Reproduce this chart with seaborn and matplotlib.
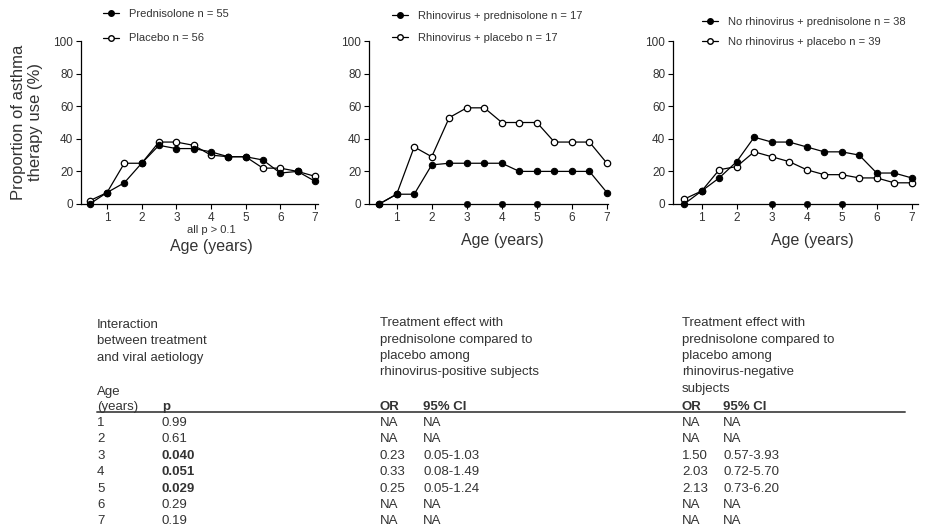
import matplotlib
matplotlib.use("Agg")
import matplotlib.pyplot as plt
from matplotlib.lines import Line2D
import seaborn as sns
import pandas as pd

# ---------------- data ----------------
ages_half = [0.5, 1, 1.5, 2, 2.5, 3, 3.5, 4, 4.5, 5, 5.5, 6, 6.5, 7]

all_pred = [0, 7, 13, 25, 36, 34, 34, 32, 29, 29, 27, 19, 20, 14]
all_plac = [2, 7, 25, 25, 38, 38, 36, 30, 29, 29, 22, 22, 20, 17]

rv_pred = [0, 6, 6, 24, 25, 25, 25, 25, 20, 20, 20, 20, 20, 7]
rv_plac = [0, 6, 35, 29, 53, 59, 59, 50, 50, 50, 38, 38, 38, 25]

norv_pred = [0, 8, 16, 26, 41, 38, 38, 35, 32, 32, 30, 19, 19, 16]
norv_plac = [3, 8, 21, 23, 32, 29, 26, 21, 18, 18, 16, 16, 13, 13]

zero_marker_x = [3, 4, 5]
zero_marker_y = [0, 0, 0]

legend_labels = [
    ("Prednisolone n = 55", "Placebo n = 56"),
    ("Rhinovirus + prednisolone n = 17", "Rhinovirus + placebo n = 17"),
    ("No rhinovirus + prednisolone n = 38", "No rhinovirus + placebo n = 39"),
]

y_ticks = [0, 20, 40, 60, 80, 100]
x_ticks = [1, 2, 3, 4, 5, 6, 7]

table_ages = ["1", "2", "3", "4", "5", "6", "7"]
table_p = ["0.99", "0.61", "0.040", "0.051", "0.029", "0.29", "0.19"]
table_p_bold = [False, False, True, True, True, False, False]
rvpos_or = ["NA", "NA", "0.23", "0.33", "0.25", "NA", "NA"]
rvpos_ci = ["NA", "NA", "0.05-1.03", "0.08-1.49", "0.05-1.24", "NA", "NA"]
rvneg_or = ["NA", "NA", "1.50", "2.03", "2.13", "NA", "NA"]
rvneg_ci = ["NA", "NA", "0.57-3.93", "0.72-5.70", "0.73-6.20", "NA", "NA"]

# ---------------- style ----------------
sns.set_style("ticks")
plt.rcParams["font.family"] = ["Liberation Sans", "DejaVu Sans"]
TXT = "#333333"

W, H = 942, 530
fig = plt.figure(figsize=(W / 100, H / 100), dpi=100)


def fx(x):
    return x / W


def fy(y):
    return 1 - y / H


panels = [
    dict(left=81, right=318, xlim=(0.25, 7.09), pred=all_pred, plac=all_plac,
         zeros=False, leg=(103, 9, 1.3)),
    dict(left=369, right=608, xlim=(0.21, 7.03), pred=rv_pred, plac=rv_plac,
         zeros=True, leg=(392, 11, 1.1)),
    dict(left=673, right=918, xlim=(0.18, 7.18), pred=norv_pred, plac=norv_plac,
         zeros=True, leg=(702, 17, 0.9)),
]

top_px, bot_px = 41, 204

for i, p in enumerate(panels):
    ax = fig.add_axes([fx(p["left"]), fy(bot_px), (p["right"] - p["left"]) / W,
                       (bot_px - top_px) / H])
    df = pd.DataFrame({"age": ages_half, "pred": p["pred"], "plac": p["plac"]})
    sns.lineplot(data=df, x="age", y="plac", ax=ax, color="black", lw=0.9,
                 marker="o", markersize=4.6, markerfacecolor="white",
                 markeredgecolor="black", markeredgewidth=0.9, clip_on=False)
    sns.lineplot(data=df, x="age", y="pred", ax=ax, color="black", lw=0.9,
                 marker="o", markersize=4.6, markerfacecolor="black",
                 markeredgecolor="black", clip_on=False)
    if p["zeros"]:
        sns.scatterplot(x=zero_marker_x, y=zero_marker_y, ax=ax, color="black",
                        s=22, edgecolor="black", clip_on=False, zorder=5)
    ax.set_xlim(*p["xlim"])
    ax.set_ylim(0, 100)
    ax.set_xticks(x_ticks)
    ax.set_yticks(y_ticks)
    ax.tick_params(labelsize=8.5, length=3.5, width=0.8, colors="black",
                   labelcolor=TXT, pad=2)
    for s in ["left", "bottom"]:
        ax.spines[s].set_linewidth(0.9)
        ax.spines[s].set_color("black")
    sns.despine(ax=ax)
    ax.set_xlabel("")
    ax.set_ylabel("")

    handles = [
        Line2D([], [], color="black", lw=0.9, marker="o", markersize=4,
               markerfacecolor="black"),
        Line2D([], [], color="black", lw=0.9, marker="o", markersize=4,
               markerfacecolor="white"),
    ]
    lx, ly, ls = p["leg"]
    fig.legend(handles, legend_labels[i], loc="upper left",
               bbox_to_anchor=(fx(lx), fy(ly)), bbox_transform=fig.transFigure,
               frameon=False, fontsize=8, handlelength=1.4, handletextpad=0.9,
               labelspacing=ls, borderpad=0, borderaxespad=0, labelcolor=TXT)

# axis labels
fig.text(fx(27), fy(122), "Proportion of asthma\ntherapy use (%)", rotation=90,
         ha="center", va="center", fontsize=12, color=TXT, linespacing=1.15)
fig.text(fx(211), fy(230), "all p > 0.1", ha="center", va="center", fontsize=8,
         color=TXT)
fig.text(fx(211), fy(247), "Age (years)", ha="center", va="center", fontsize=11.5,
         color=TXT)
fig.text(fx(502), fy(240), "Age (years)", ha="center", va="center", fontsize=11.5,
         color=TXT)
fig.text(fx(812), fy(240), "Age (years)", ha="center", va="center", fontsize=11.5,
         color=TXT)

# ---------------- table ----------------
FS = 9.5


def t(x, y, s, bold=False):
    fig.text(fx(x), fy(y), s, ha="left", va="center", fontsize=FS, color=TXT,
             fontweight="bold" if bold else "normal")


for j, line in enumerate(["Interaction", "between treatment", "and viral aetiology"]):
    t(97, 325 + j * 16.3, line)
for j, line in enumerate(["Treatment effect with", "prednisolone compared to",
                          "placebo among", "rhinovirus-positive subjects"]):
    t(380, 323 + j * 16.5, line)
for j, line in enumerate(["Treatment effect with", "prednisolone compared to",
                          "placebo among", "rhinovirus-negative", "subjects"]):
    t(682, 323 + j * 16.5, line)

t(97, 392, "Age")
t(97, 407, "(years)")
t(162, 407, "p", bold=True)
t(380, 407, "OR", bold=True)
t(423, 407, "95% CI", bold=True)
t(682, 407, "OR", bold=True)
t(723, 407, "95% CI", bold=True)

fig.add_artist(Line2D([fx(97), fx(905)], [fy(412), fy(412)], color="#555555",
                      lw=1.4, transform=fig.transFigure))

for k in range(len(table_ages)):
    y = 423 + k * 16.4
    t(97, y, table_ages[k])
    t(162, y, table_p[k], bold=table_p_bold[k])
    t(380, y, rvpos_or[k])
    t(423, y, rvpos_ci[k])
    t(682, y, rvneg_or[k])
    t(723, y, rvneg_ci[k])

fig.savefig("out.png", dpi=100)
